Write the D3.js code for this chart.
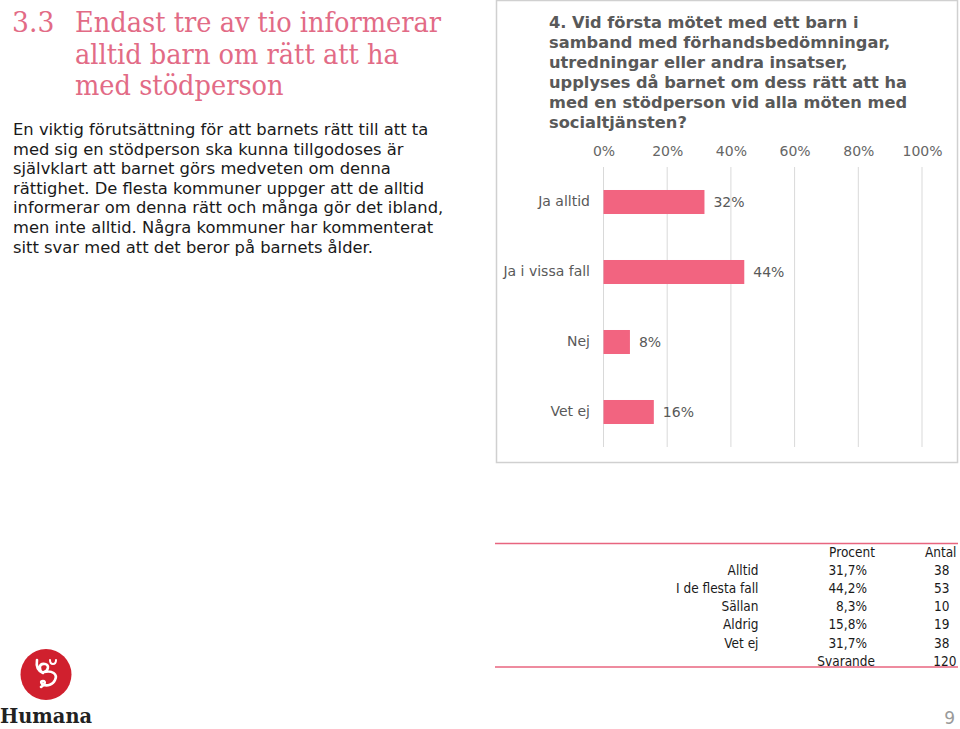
<!DOCTYPE html>
<html><head><meta charset="utf-8">
<script src="https://cdn.jsdelivr.net/npm/d3@7"></script>
<style>
html,body{margin:0;padding:0;background:#fff;}
svg{display:block;}
</style></head>
<body>
<script>
// ---- data ----
const categories = ["Ja alltid", "Ja i vissa fall", "Nej", "Vet ej"];
const values = [31.7, 44.2, 8.3, 15.8];
const xTicks = [0, 20, 40, 60, 80, 100];
const chartTitle = ["4. Vid första mötet med ett barn i", "samband med förhandsbedömningar,", "utredningar eller andra insatser,", "upplyses då barnet om dess rätt att ha", "med en stödperson vid alla möten med", "socialtjänsten?"];
const headingNumber = "3.3";
const headingLines = ["Endast tre av tio informerar", "alltid barn om rätt att ha", "med stödperson"];
const bodyLines = [
  "En viktig förutsättning för att barnets rätt till att ta",
  "med sig en stödperson ska kunna tillgodoses är",
  "självklart att barnet görs medveten om denna",
  "rättighet. De flesta kommuner uppger att de alltid",
  "informerar om denna rätt och många gör det ibland,",
  "men inte alltid. Några kommuner har kommenterat",
  "sitt svar med att det beror på barnets ålder."
];
const tableRows = ["Alltid", "I de flesta fall", "Sällan", "Aldrig", "Vet ej"];
const tablePercent = ["31,7%", "44,2%", "8,3%", "15,8%", "31,7%"];
const tableCount = ["38", "53", "10", "19", "38"];
const tableTotalLabel = "Svarande";
const tableTotal = "120";
const pageNumber = "9";

const W = 960, H = 729;
const svg = d3.select("body").append("svg").attr("width", W).attr("height", H);
const pink = "#E8657F";
const sans = "Verdana, 'DejaVu Sans', sans-serif";

// stretch/squeeze text horizontally to mimic the original font widths
function fit(sel, factor) {
  sel.each(function () {
    const len = this.getComputedTextLength();
    d3.select(this).attr("textLength", len * factor).attr("lengthAdjust", "spacingAndGlyphs");
  });
}

// ---- left heading ----
const hd = svg.append("g").attr("font-family", "Georgia, 'DejaVu Serif', serif").attr("fill", "#E26B86").attr("font-size", 28);
hd.append("text").attr("x", 12).attr("y", 32).text(headingNumber).call(fit, 0.95);
headingLines.forEach((t, i) => hd.append("text").attr("x", 75).attr("y", 32 + i * 31.5).text(t).call(fit, 0.917));

const bd = svg.append("g").attr("font-family", sans).attr("fill", "#1a1a1a").attr("font-size", 15.5);
bodyLines.forEach((t, i) => bd.append("text").attr("x", 13).attr("y", 135 + i * 19.6).text(t).call(fit, 1.055));

// ---- chart frame ----
svg.append("rect").attr("x", 496.5).attr("y", 0.5).attr("width", 461).attr("height", 462)
  .attr("fill", "#fff").attr("stroke", "#d0d0d0").attr("stroke-width", 1.5);

const tg = svg.append("g").attr("font-family", sans).attr("font-weight", "bold").attr("fill", "#595959").attr("font-size", 16);
chartTitle.forEach((t, i) => tg.append("text").attr("x", 549).attr("y", 28 + i * 20).text(t).call(fit, 1.015));

const x = d3.scaleLinear().domain([0, 100]).range([603.5, 922]);
const y = d3.scaleBand().domain(categories).range([167, 447]).paddingInner(0.657).paddingOuter(0.3285);

// gridlines
svg.append("g").selectAll("line").data(xTicks).join("line")
  .attr("x1", d => x(d)).attr("x2", d => x(d)).attr("y1", 167).attr("y2", 447)
  .attr("stroke", "#d9d9d9").attr("stroke-width", 1);

// top axis labels
const ax = svg.append("g").attr("transform", "translate(0,167)")
  .call(d3.axisTop(x).tickValues(xTicks).tickFormat(d => d + "%").tickSize(0).tickPadding(11));
ax.select(".domain").remove();
ax.selectAll("text").attr("font-family", sans).attr("font-size", 14).attr("fill", "#666");

// category labels
const ay = svg.append("g").attr("transform", "translate(590,0)")
  .call(d3.axisLeft(y).tickSize(0).tickPadding(0));
ay.select(".domain").remove();
ay.selectAll("text").attr("font-family", sans).attr("font-size", 14).attr("fill", "#595959");

// bars
svg.append("g").selectAll("rect").data(values).join("rect")
  .attr("x", x(0)).attr("y", (d, i) => y(categories[i]))
  .attr("width", d => x(d) - x(0)).attr("height", y.bandwidth())
  .attr("fill", "#F26480");

svg.append("g").selectAll("text").data(values).join("text")
  .attr("x", d => x(d) + 9).attr("y", (d, i) => y(categories[i]) + y.bandwidth() / 2)
  .attr("dy", "0.35em").attr("font-family", sans).attr("font-size", 14).attr("fill", "#595959")
  .text(d => Math.round(d) + "%");

// ---- table ----
const tb = svg.append("g").attr("font-family", sans).attr("font-size", 13.5).attr("fill", "#1a1a1a");
tb.append("line").attr("x1", 495).attr("x2", 958).attr("y1", 543.5).attr("y2", 543.5).attr("stroke", pink).attr("stroke-width", 1.5);
tb.append("line").attr("x1", 495).attr("x2", 958).attr("y1", 667).attr("y2", 667).attr("stroke", pink).attr("stroke-width", 1.5);
const rowY = i => 556.5 + i * 18.2;
const tt = (xx, yy, s) => tb.append("text").attr("x", xx).attr("y", yy).attr("text-anchor", "end").text(s).call(fit, 0.9);
tt(875, rowY(0), "Procent");
tt(956.5, rowY(0), "Antal");
tableRows.forEach((r, i) => {
  tt(758.5, rowY(i + 1), r);
  tt(867, rowY(i + 1), tablePercent[i]);
  tt(949.5, rowY(i + 1), tableCount[i]);
});
tt(875, rowY(6), tableTotalLabel);
tt(956.5, rowY(6), tableTotal);

// ---- logo ----
const lg = svg.append("g");
lg.append("circle").attr("cx", 46).attr("cy", 674.5).attr("r", 25.5).attr("fill", "#D0202E");
lg.append("path")
  .attr("d", "M37,660 C36,666 38,671 43,673 C38,669 39,663 45,664 C50,665 48,671 44,672 C52,670 58,674 55,680 C53,685 47,686 44,685 C41,684 40,681 43,681 C46,681 45,685 41,687")
  .attr("fill", "none").attr("stroke", "#fff").attr("stroke-width", 2.6).attr("stroke-linecap", "round").attr("stroke-linejoin", "round");
lg.append("path").attr("d", "M50,660 q0,4 3,4 q3,0 3,-4").attr("fill", "none").attr("stroke", "#fff").attr("stroke-width", 2).attr("stroke-linecap", "round");
lg.append("text").attr("x", 0).attr("y", 723).attr("font-family", "'DejaVu Serif', serif").attr("font-weight", "bold")
  .attr("font-size", 20).attr("fill", "#222").attr("textLength", 92).attr("lengthAdjust", "spacingAndGlyphs").text("Humana");

svg.append("text").attr("x", 955).attr("y", 724).attr("text-anchor", "end").attr("font-family", sans)
  .attr("font-size", 17).attr("fill", "#9a9a9a").text(pageNumber);
</script>
</body></html>
